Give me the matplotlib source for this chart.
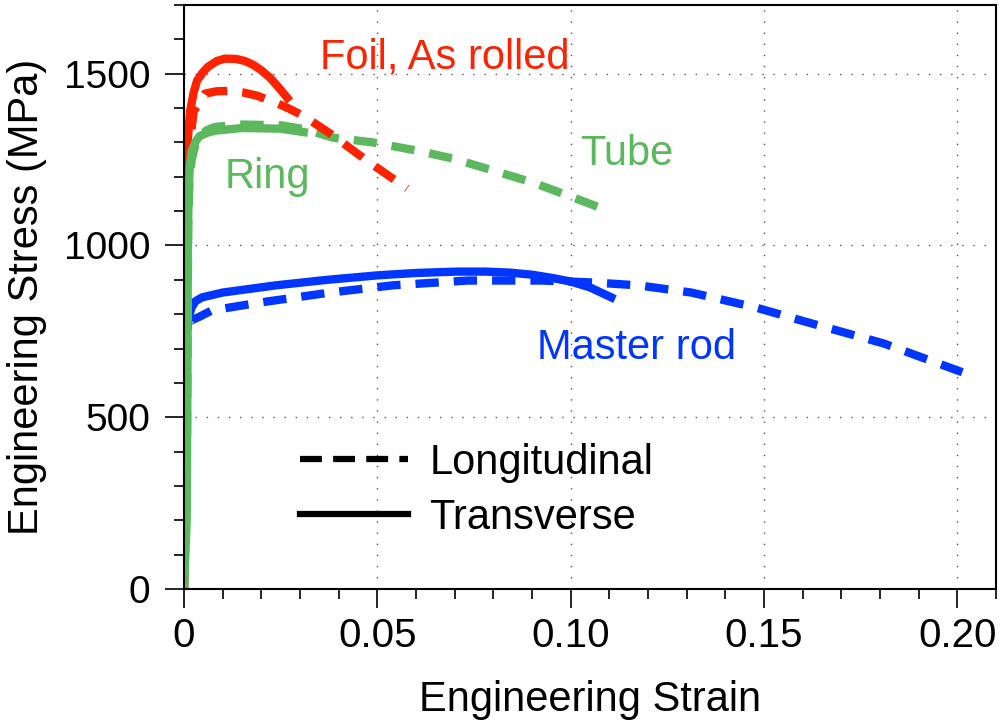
import matplotlib
matplotlib.use("Agg")
import matplotlib.pyplot as plt
from matplotlib.lines import Line2D
from matplotlib.ticker import MultipleLocator, FixedLocator, FuncFormatter

plt.rcParams['font.family'] = ['Liberation Sans', 'DejaVu Sans']

# Stress-strain curves (strain, MPa)
foil_t_strain = [0, 0.0002, 0.0005, 0.001, 0.0016, 0.0025, 0.0034, 0.0048, 0.0062, 0.0085,
                 0.0106, 0.0135, 0.0158, 0.0179, 0.02, 0.0223, 0.0245, 0.0267]
foil_t_stress = [0, 900, 1200, 1310, 1392, 1445, 1480, 1503, 1520, 1537,
                 1544, 1543, 1537, 1526, 1510, 1488, 1460, 1430]

foil_l_strain = [0, 0.0003, 0.001, 0.0025, 0.0054, 0.0085, 0.0119, 0.0155, 0.0189, 0.0228,
                 0.0267, 0.0308, 0.0378, 0.0473, 0.0577]
foil_l_stress = [0, 900, 1250, 1390, 1442, 1449, 1450, 1445, 1436, 1420,
                 1401, 1378, 1326, 1247, 1166]

ring_strain = [0, 0.0007, 0.0009, 0.001, 0.0012, 0.0015, 0.002, 0.003, 0.004, 0.006, 0.008,
               0.015, 0.025, 0.031]
ring_stress = [0, 200, 600, 1000, 1150, 1230, 1275, 1302, 1318, 1328, 1334,
               1342, 1340, 1330]

tube_strain = [0, 0.0007, 0.0009, 0.0011, 0.0014, 0.002, 0.003, 0.004, 0.006, 0.008, 0.015,
               0.025, 0.0315, 0.0385, 0.0489, 0.0603, 0.0696, 0.08, 0.0903, 0.1006, 0.1102]
tube_stress = [0, 250, 650, 1050, 1180, 1250, 1295, 1320, 1336, 1345, 1352,
               1350, 1338, 1314, 1300, 1276, 1253, 1218, 1183, 1140, 1099]

rod_t_strain = [0, 0.0003, 0.0012, 0.002, 0.003, 0.0047, 0.01, 0.0238, 0.037, 0.05, 0.06,
                0.0706, 0.078, 0.0843, 0.09, 0.0955, 0.1, 0.105, 0.1105]
rod_t_stress = [0, 700, 790, 820, 838, 849, 863, 884, 900, 913, 920,
                924, 924, 921, 915, 905, 895, 878, 849]

rod_l_strain = [0, 0.0003, 0.0015, 0.0039, 0.0072, 0.0197, 0.0378, 0.054, 0.0735, 0.0926,
                0.1063, 0.1175, 0.1312, 0.1477, 0.1614, 0.1809, 0.2013]
rod_l_stress = [0, 700, 780, 792, 811, 834, 863, 884, 898, 898,
                892, 884, 863, 820, 776, 715, 631]

red = '#ff2200'
green = '#5cb85c'
blue = '#0036ff'
lw = 6
dash = (2.8, 1.8)
style = dict(lw=lw, solid_joinstyle='round', dash_joinstyle='round')

fig = plt.figure(figsize=(10.03, 7.27), dpi=100)
ax = fig.add_axes([0.1834, 0.1898, 0.8096, 0.8033])

ax.plot(rod_t_strain, rod_t_stress, color=blue, **style)
ax.plot(rod_l_strain, rod_l_stress, color=blue, dashes=dash, **style)
ax.plot(tube_strain, tube_stress, color=green, dashes=dash, **style)
ax.plot(foil_l_strain, foil_l_stress, color=red, dashes=dash, **style)
ax.plot(foil_t_strain, foil_t_stress, color=red, **style)
ax.plot(ring_strain, ring_stress, color=green, **style)

# curve labels
ax.text(0.0352, 1514, 'Foil, As rolled', color=red, fontsize=30)
ax.text(0.0106, 1166, 'Ring', color=green, fontsize=30)
ax.text(0.1025, 1233, 'Tube', color=green, fontsize=30)
ax.text(0.0913, 671, 'Master rod', color=blue, fontsize=30)

handles = [Line2D([], [], color='k', lw=4.5, dashes=(3.5, 1.8)),
           Line2D([], [], color='k', lw=4.5)]
ax.legend(handles, ['Longitudinal', 'Transverse'], loc='upper left',
          bbox_to_anchor=(0.143, 0.25), frameon=False, fontsize=30,
          handlelength=2.6, handletextpad=0.5, labelspacing=0.35,
          borderpad=0, borderaxespad=0)

ax.set_xlim(0, 0.21)
ax.set_ylim(0, 1700)

ax.xaxis.set_major_locator(FixedLocator([0, 0.05, 0.10, 0.15, 0.20]))
ax.xaxis.set_minor_locator(MultipleLocator(0.01))
ax.yaxis.set_major_locator(MultipleLocator(500))
ax.yaxis.set_minor_locator(MultipleLocator(100))
ax.xaxis.set_major_formatter(FuncFormatter(lambda v, p: '0' if v == 0 else f'{v:.2f}'))

ax.tick_params(which='major', direction='out', length=14, width=1.2, labelsize=29, pad=6)
ax.tick_params(which='minor', direction='out', length=7, width=1.2)
ax.tick_params(axis='y', which='major', pad=10, labelsize=28)
for s in ax.spines.values():
    s.set_linewidth(1.5)

ax.grid(True, which='major', color='#555555', lw=1, linestyle=(0, (1, 7)))
ax.set_axisbelow(True)

ax.set_xlabel('Engineering Strain', fontsize=30, labelpad=18)
ax.set_ylabel('Engineering Stress (MPa)', fontsize=30, labelpad=12)

plt.savefig('out.png', dpi=100)
